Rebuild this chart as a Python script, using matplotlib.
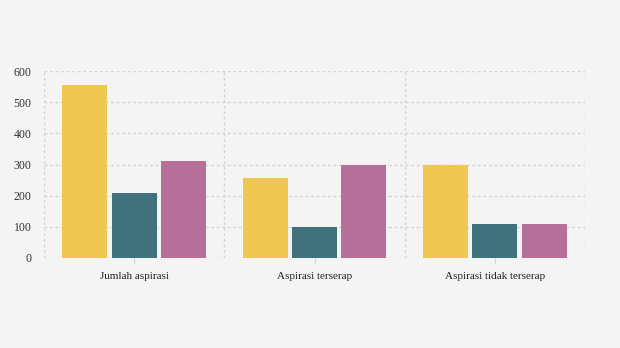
import matplotlib.pyplot as plt
import numpy as np

categories = ['Jumlah aspirasi', 'Aspirasi terserap', 'Aspirasi tidak terserap']
series_a = [555, 257, 300]
series_b = [210, 100, 110]
series_c = [310, 300, 110]
colors = ['#f0c751', '#41727b', '#b66f98']
y_ticks = [0, 100, 200, 300, 400, 500, 600]

bg = '#f4f4f4'
grid_col = '#d4d4d4'

fig = plt.figure(figsize=(6.2, 3.48), dpi=100, facecolor=bg)
ax = fig.add_axes([44 / 620, 1 - 258 / 348, 541 / 620, 187 / 348])
ax.set_facecolor(bg)

x = np.arange(len(categories))
step = 0.274
w = 0.25
for i, (vals, col) in enumerate(zip([series_a, series_b, series_c], colors)):
    ax.bar(x + (i - 1) * step, vals, width=w, color=col, linewidth=0, zorder=3)

ax.set_xlim(-0.5, 2.5)
ax.set_ylim(0, 600)
ax.set_yticks(y_ticks)
ax.set_xticks(x)
ax.set_xticklabels(categories)

# grid: horizontal at ticks, vertical at category boundaries
for y in y_ticks:
    ax.axhline(y, color=grid_col, linestyle=(0, (2, 2)), linewidth=1, zorder=1)
for xb in [-0.5, 0.5, 1.5, 2.5]:
    ax.axvline(xb, color=grid_col, linestyle=(0, (2, 2)), linewidth=1, zorder=1)

for s in ax.spines.values():
    s.set_visible(False)

ax.tick_params(axis='y', length=0, pad=9, labelsize=8.5, labelcolor='#333333')
ax.tick_params(axis='x', length=4, color=grid_col, pad=6, labelsize=8, labelcolor='#222222')
for lab in ax.get_xticklabels() + ax.get_yticklabels():
    lab.set_fontfamily('Liberation Serif')

fig.savefig('out.png', dpi=100, facecolor=bg)
